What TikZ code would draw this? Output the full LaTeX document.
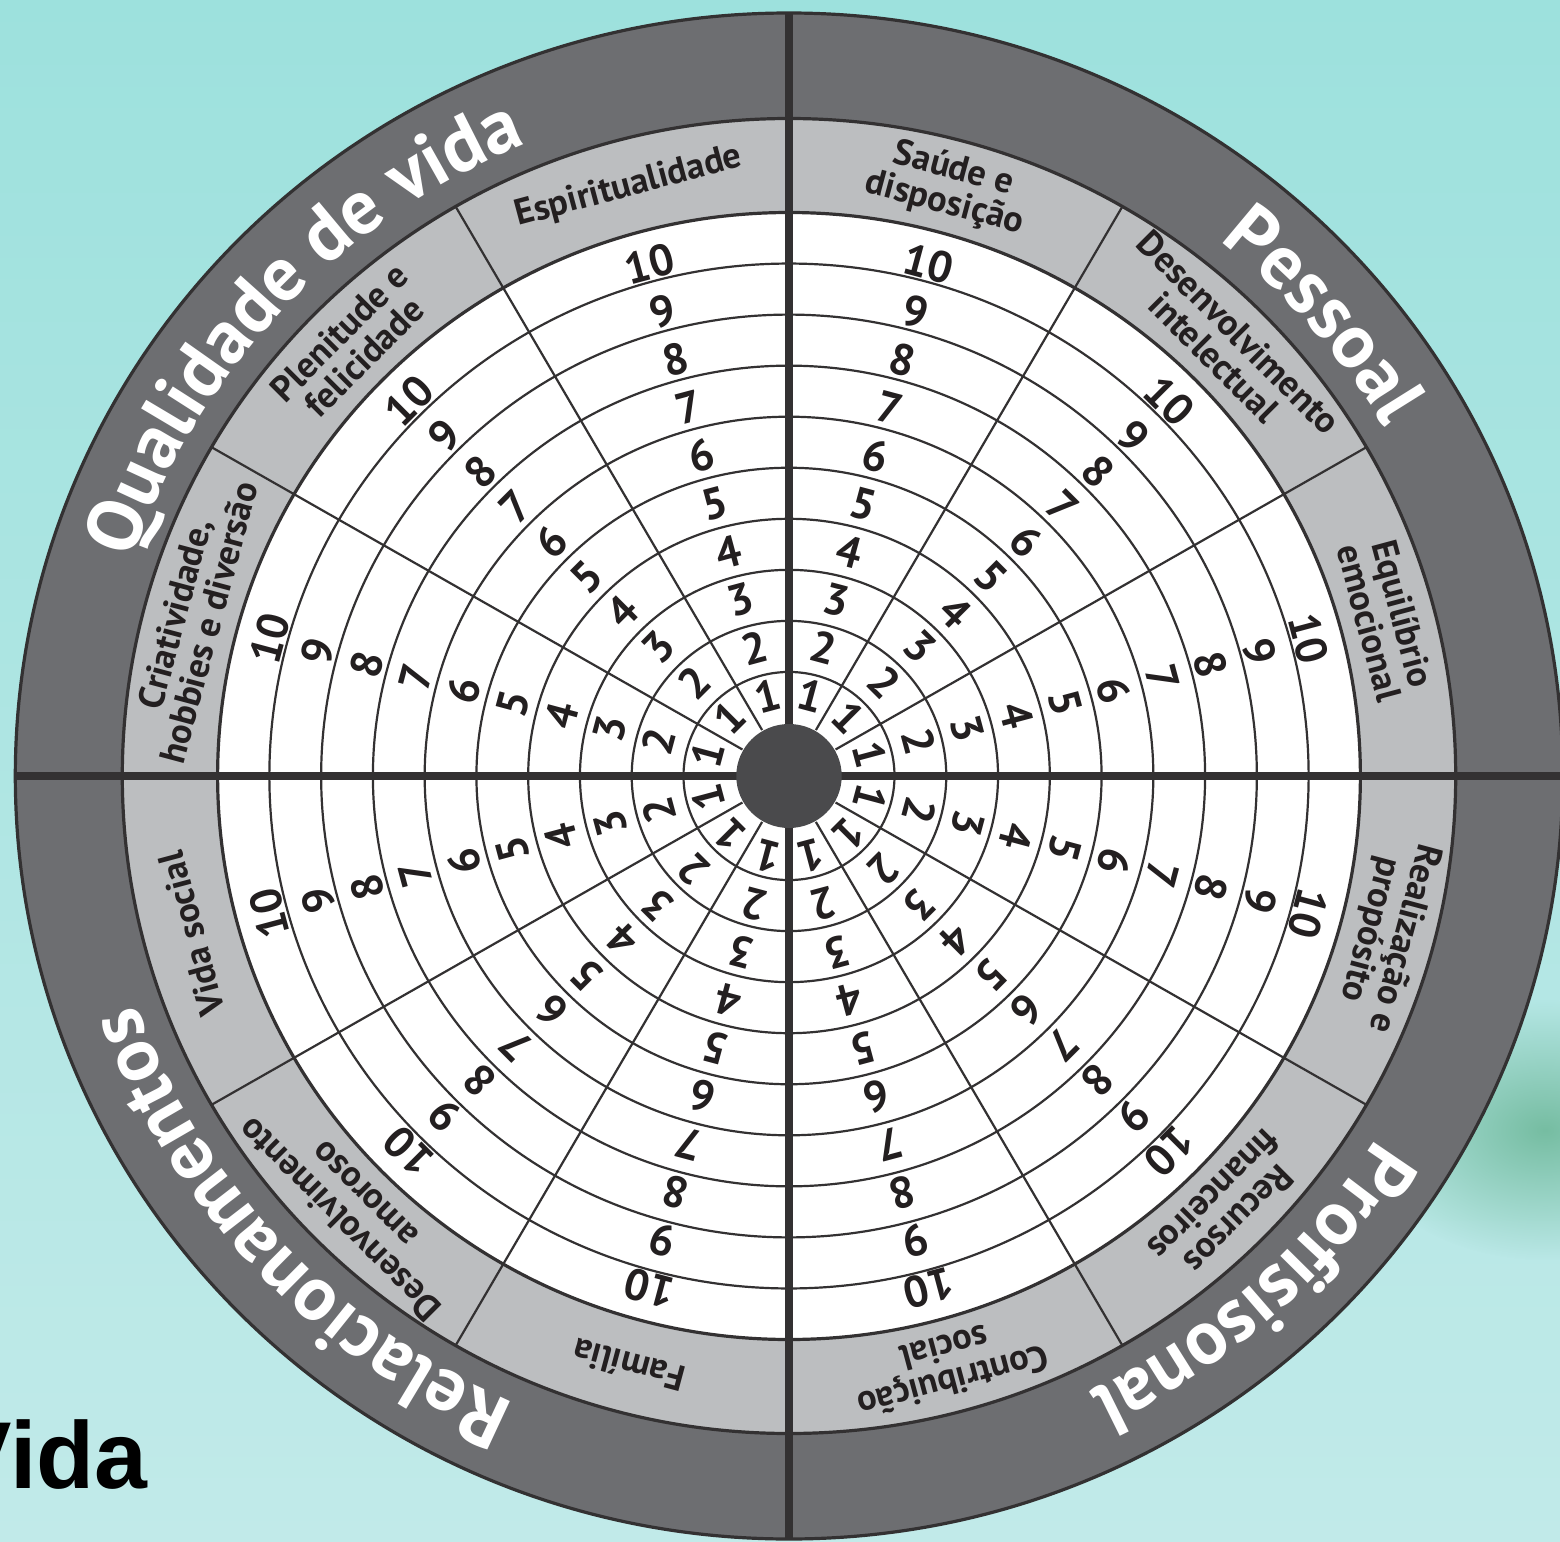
\documentclass[tikz,border=0pt]{standalone}
\usepackage{fontspec}
\setmainfont{PT Sans}
\newfontfamily\arialfont{Liberation Sans}
\usetikzlibrary{decorations.text,fadings}
\definecolor{bgtop}{HTML}{9DE1DD}
\definecolor{bgbot}{HTML}{C1EAE9}
\definecolor{blobcol}{HTML}{76BDA2}
\definecolor{ringdark}{HTML}{6D6E71}
\definecolor{bandgray}{HTML}{BCBEC0}
\definecolor{linecol}{HTML}{333132}
\definecolor{dotcol}{HTML}{4A4A4C}
\definecolor{ink}{HTML}{231F20}
\newcommand\quadfont{\bfseries\fontsize{38.5}{40}\selectfont}
\tikzfading[name=softblob, inner color=transparent!0, outer color=transparent!100]
\tikzset{
  numlabel/.style={font=\bfseries\fontsize{22}{22}\selectfont, text=ink, inner sep=0pt},
  arealabel/.style={font=\bfseries\fontsize{18.2}{17.5}\selectfont, text=ink, inner sep=0pt, align=center},
  ringline/.style={draw=linecol, line width=1.1pt},
  edgeline/.style={draw=linecol, line width=1.6pt},
  axisline/.style={draw=linecol, line width=4pt},
  spokeline/.style={draw=linecol, line width=1.1pt},
  quadtext/.style={decorate, decoration={text along path, text align=center, text color=white, text={|\quadfont|#1}}},
}
\begin{document}
\begin{tikzpicture}[x=0.5pt,y=0.5pt]
\useasboundingbox (0,0) rectangle (1560,-1542);
\shade[top color=bgtop, bottom color=bgbot] (0,0) rectangle (1560,-1542);
\fill[blobcol, path fading=softblob] (1545,-1130) ellipse (190 and 130);
\node[anchor=base east, inner sep=0pt, font=\arialfont\bfseries\fontsize{47.5}{50}\selectfont, text=black] (vida) at (148,-1488) {Vida};
\begin{scope}[shift={(789,-776)}, xscale=1.014]
  \coordinate (C) at (0,0);
  \fill[ringdark] (C) circle (763);
  \fill[bandgray] (C) circle (657.5);
  \fill[white] (C) circle (563.5);
  \foreach \k in {1,...,9} \draw[ringline] (C) circle ({53+51.05*\k});
  \draw[edgeline] (C) circle (563.5);
  \draw[edgeline] (C) circle (657.5);
  \draw[edgeline] (C) circle (763);
  \foreach \a in {30,60,120,150,210,240,300,330} \draw[spokeline] (\a:53) -- (\a:657.5);
  \foreach \a in {0,90,180,270} \draw[axisline] (\a:50) -- (\a:763);
  \fill[dotcol] (C) circle (52);
  % numbers
  \foreach \s in {0,...,11}{
    \pgfmathsetmacro\ang{15+30*\s}
    \foreach \k in {1,...,10}{
      \node[numlabel, rotate=\ang-90] (n\s-\k) at (\ang:{83+49.7*(\k-1)}) {\k};
    }
  }
  % sector labels
  \foreach \a/\t [count=\i] in {
    15/{Equilíbrio\\emocional},
    45/{Desenvolvimento\\intelectual},
    75/{Saúde e\\disposição},
    105/{Espiritualidade},
    135/{Plenitude e\\felicidade},
    165/{Criatividade,\\hobbies e diversão},
    195/{Vida social},
    225/{Desenvolvimento\\amoroso},
    255/{Família},
    285/{Contribuição\\social},
    315/{Recursos\\financeiros},
    345/{Realização e\\propósito}}{
    \node[arealabel, rotate=\a-90] (lab\i) at (\a:610) {\t};
  }
  % quadrant labels
  \path[quadtext={Qualidade de vida}] (177:683) arc[start angle=177, end angle=97, radius=683];
  \path[quadtext={Pessoal}] (81:683) arc[start angle=81, end angle=1, radius=683];
  \path[quadtext={Profisisonal}] (352:683) arc[start angle=352, end angle=272, radius=683];
  \path[quadtext={Relacionamentos}] (263:683) arc[start angle=263, end angle=183, radius=683];
\end{scope}
\end{tikzpicture}
\end{document}
